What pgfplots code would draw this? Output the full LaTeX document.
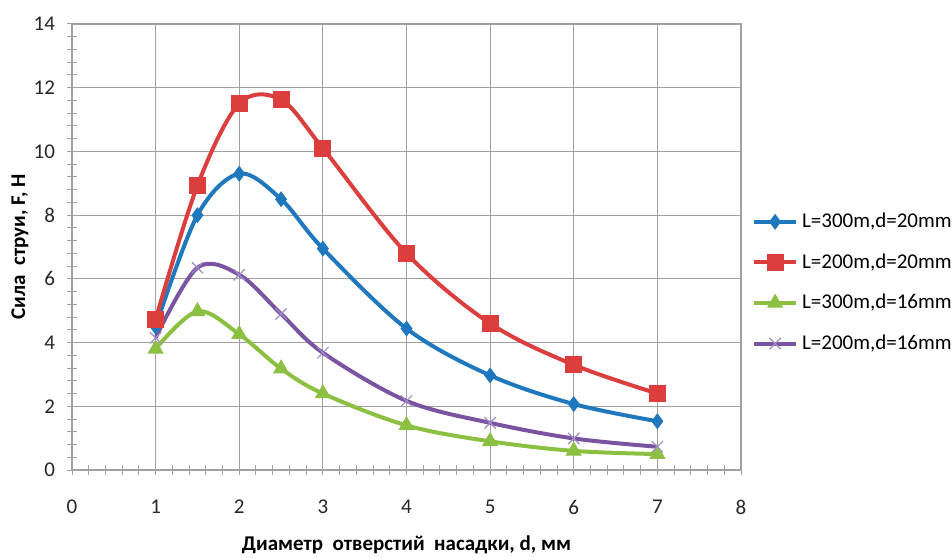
\documentclass[border=0pt]{standalone}
\usepackage{fontspec}
\setmainfont{Carlito}
\usepackage{pgfplots}
\pgfplotsset{compat=1.18}
\definecolor{sblue}{RGB}{31,120,190}
\definecolor{sred}{RGB}{220,62,62}
\definecolor{sgreen}{RGB}{140,192,66}
\definecolor{spurple}{RGB}{122,84,160}
\definecolor{smark}{RGB}{160,140,200}
\definecolor{gridc}{RGB}{160,160,160}
\begin{document}
\begin{tikzpicture}
\useasboundingbox (0,0) rectangle (476pt,278.5pt);
\begin{axis}[
  at={(36pt,43.5pt)}, anchor=south west,
  scale only axis, width=334.5pt, height=223pt,
  xmin=0, xmax=8, ymin=0, ymax=14,
  xtick={0,1,...,8}, ytick={0,2,...,14},
  minor x tick num=4, minor y tick num=4,
  grid=major,
  major grid style={gridc, line width=0.6pt},
  axis line style={gridc, line width=0.6pt},
  tick style={gridc, line width=0.5pt},
  tick align=center,
  major tick length=5pt, minor tick length=5pt,
  xtick pos=bottom, ytick pos=left,
  /pgf/number format/assume math mode=true,
  tick label style={font=\fontsize{10.5}{12}\selectfont, text=black!85},
  xticklabel style={yshift=-9pt},
  yticklabel style={xshift=-2.5pt},
  xlabel={Диаметр\ \ отверстий\ \ насадки, d, мм},
  ylabel={Сила\ \ струи, F, H},
  label style={font=\bfseries\fontsize{10.5}{12}\selectfont},
  xlabel style={at={(axis description cs:0.5,-0.168)}, anchor=center},
  ylabel style={at={(axis description cs:-0.078,0.5)}, anchor=center, rotate=0},
  legend style={at={(axis description cs:1.016,0.42)}, anchor=west, draw=none, fill=none,
    font=\fontsize{10.5}{12}\selectfont, row sep=7.5pt, inner sep=0pt},
  legend cell align=left,
  legend image code/.code={\draw[mark repeat=2, mark phase=2, #1] plot coordinates {(0pt,0pt) (10.5pt,0pt) (21pt,0pt)};},
  every axis plot/.append style={line width=2pt, smooth, tension=0.55},
]
\addplot[sblue, mark=diamond*, mark size=3.6pt, mark options={solid, line width=0.5pt}] coordinates {
(1,4.5) (1.5,8.0) (2,9.3) (2.5,8.5) (3,6.95) (4,4.44) (5,2.97) (6,2.07) (7,1.53)};
\addlegendentry{L=300m,d=20mm}
\addplot[sred, mark=square*, mark size=4pt, mark options={solid, line width=0.5pt}] coordinates {
(1,4.73) (1.5,8.93) (2,11.5) (2.5,11.62) (3,10.1) (4,6.8) (5,4.6) (6,3.3) (7,2.4)};
\addlegendentry{L=200m,d=20mm}
\addplot[sgreen, mark=triangle*, mark size=4.2pt, mark options={solid, line width=0.5pt}] coordinates {
(1,3.8) (1.5,4.98) (2,4.26) (2.5,3.18) (3,2.4) (4,1.4) (5,0.9) (6,0.6) (7,0.5)};
\addlegendentry{L=300m,d=16mm}
\addplot[spurple, mark=x, mark size=4pt, mark options={smark, solid, line width=0.6pt}] coordinates {
(1,4.15) (1.5,6.35) (2,6.13) (2.5,4.9) (3,3.68) (4,2.17) (5,1.48) (6,0.99) (7,0.73)};
\addlegendentry{L=200m,d=16mm}
\end{axis}
\end{tikzpicture}
\end{document}
